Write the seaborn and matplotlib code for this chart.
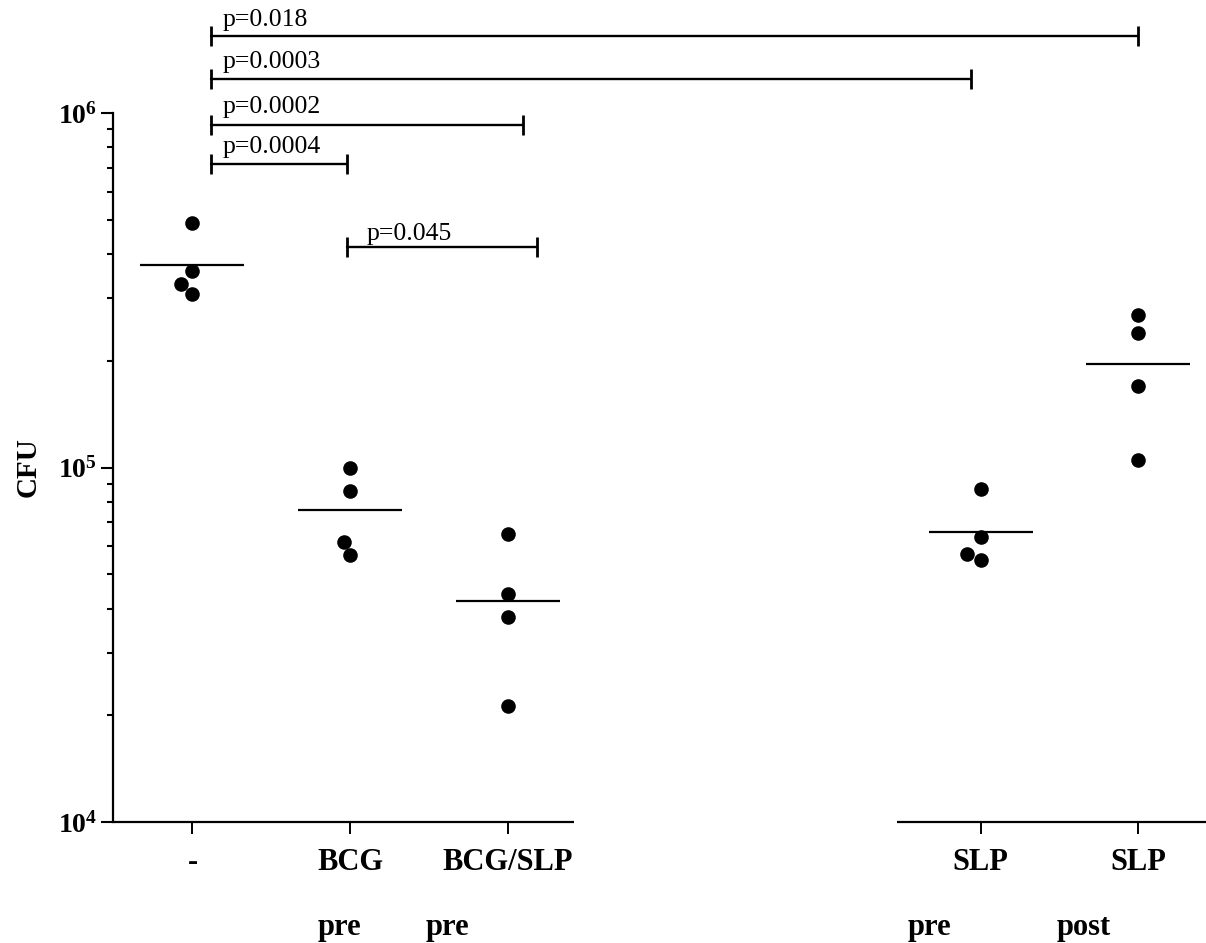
import numpy as np
import pandas as pd
import matplotlib
matplotlib.use("Agg")
import matplotlib.pyplot as plt
from matplotlib.ticker import NullFormatter, LogLocator
import seaborn as sns

# ---------------- data ----------------
groups = ["-", "BCG", "BCG/SLP", "SLP pre", "SLP post"]
cfu_none = [4.90e5, 3.59e5, 3.29e5, 3.09e5]
cfu_bcg = [1.00e5, 8.59e4, 6.18e4, 5.67e4]
cfu_bcg_slp = [6.48e4, 4.40e4, 3.79e4, 2.13e4]
cfu_slp_pre = [8.70e4, 6.38e4, 5.69e4, 5.48e4]
cfu_slp_post = [2.70e5, 2.40e5, 1.70e5, 1.05e5]
tick_labels = ["-", "BCG", "BCG/SLP", "SLP", "SLP"]
time_labels = ["pre", "pre", "pre", "post"]
p_labels = ["p=0.018", "p=0.0003", "p=0.0002", "p=0.0004", "p=0.045"]
ytick_values = [1e4, 1e5, 1e6]

values = [cfu_none, cfu_bcg, cfu_bcg_slp, cfu_slp_pre, cfu_slp_post]
df = pd.DataFrame({
    "group": [g for g, v in zip(groups, values) for _ in v],
    "CFU": [x for v in values for x in v],
})

# ---------------- layout ----------------
order = ["-", "BCG", "BCG/SLP", "gap1", "gap2", "SLP pre", "SLP post"]
bracket_spans = [(0.117, 6.0), (0.117, 4.94), (0.117, 2.10), (0.117, 0.981), (0.981, 2.184)]
bracket_heights = [1.65e6, 1.25e6, 9.25e5, 7.17e5, 4.18e5]
label_x = [0.194, 0.194, 0.194, 0.194, 1.107]
label_offset_px = [10, 10.5, 12, 11, 7]
time_x = [0.935, 1.615, 4.673, 5.657]

sns.set_style("ticks")
plt.rcParams["font.family"] = ["Liberation Serif", "DejaVu Serif"]
for key in ["text.color", "axes.labelcolor", "xtick.color", "ytick.color", "axes.edgecolor"]:
    plt.rcParams[key] = "black"

W, H = 1206, 943
fig = plt.figure(figsize=(W / 100, H / 100), dpi=100)
ax = fig.add_axes([113 / W, (H - 822) / H, (W - 113) / W, (822 - 113) / H])
ax.set_yscale("log")
ax.set_ylim(1e4, 1e6)
ax.set_xlim(-0.504, 6.43)

sns.swarmplot(data=df, x="group", y="CFU", order=order, color="black",
              size=10.5, linewidth=0, ax=ax)
ax.set_ylim(1e4, 1e6)
ax.set_xlim(-0.504, 6.43)

# mean lines
for g in groups:
    pos = order.index(g)
    m = df.loc[df["group"] == g, "CFU"].mean()
    ax.hlines(m, pos - 0.33, pos + 0.33, color="black", lw=1.6)

# axes styling
for s in ["top", "right", "bottom"]:
    ax.spines[s].set_visible(False)
ax.spines["left"].set_linewidth(1.6)
ax.spines["left"].set_color("black")

# broken x axis
for x0, x1 in [(-0.504, 2.42), (4.47, 6.43)]:
    ax.plot([x0, x1], [1e4, 1e4], color="black", lw=1.6, clip_on=False,
            solid_capstyle="butt")

ax.set_xticks([order.index(g) for g in groups])
ax.set_xticklabels(tick_labels, fontsize=22, fontweight="bold")
ax.tick_params(axis="x", length=8.5, width=1.4, pad=10.5, color="black")
ax.set_xlabel("")

ax.yaxis.set_major_locator(plt.FixedLocator(ytick_values))
ax.yaxis.set_minor_locator(LogLocator(base=10, subs=np.arange(2, 10)))
ax.yaxis.set_minor_formatter(NullFormatter())
ax.set_yticklabels([r"$\mathdefault{10^{%d}}$" % int(np.log10(v)) for v in ytick_values],
                   fontsize=20, fontweight="bold")
ax.tick_params(axis="y", which="major", length=8.5, width=1.5, pad=3, color="black")
ax.tick_params(axis="y", which="minor", length=4.5, width=1.5, color="black")

ax.set_ylabel("CFU", fontsize=21, fontweight="bold")
ax.yaxis.set_label_coords(-0.065, 0.5)

# significance brackets
for (x0, x1), yv, lab, lx, off in zip(bracket_spans, bracket_heights, p_labels,
                                      label_x, label_offset_px):
    ax.plot([x0, x1], [yv, yv], color="black", lw=1.7, marker="|",
            markersize=15, markeredgewidth=2, clip_on=False)
    ax.annotate(lab, xy=(lx, yv), xytext=(0, off * 0.72), textcoords="offset points",
                ha="left", va="baseline", fontsize=18.5, annotation_clip=False)

# time labels under the axis
for lab, tx in zip(time_labels, time_x):
    ax.annotate(lab, xy=(tx, 8), xycoords=("data", "figure pixels"),
                ha="center", va="baseline", fontsize=22, fontweight="bold",
                annotation_clip=False)

fig.savefig("out.png", dpi=100)
